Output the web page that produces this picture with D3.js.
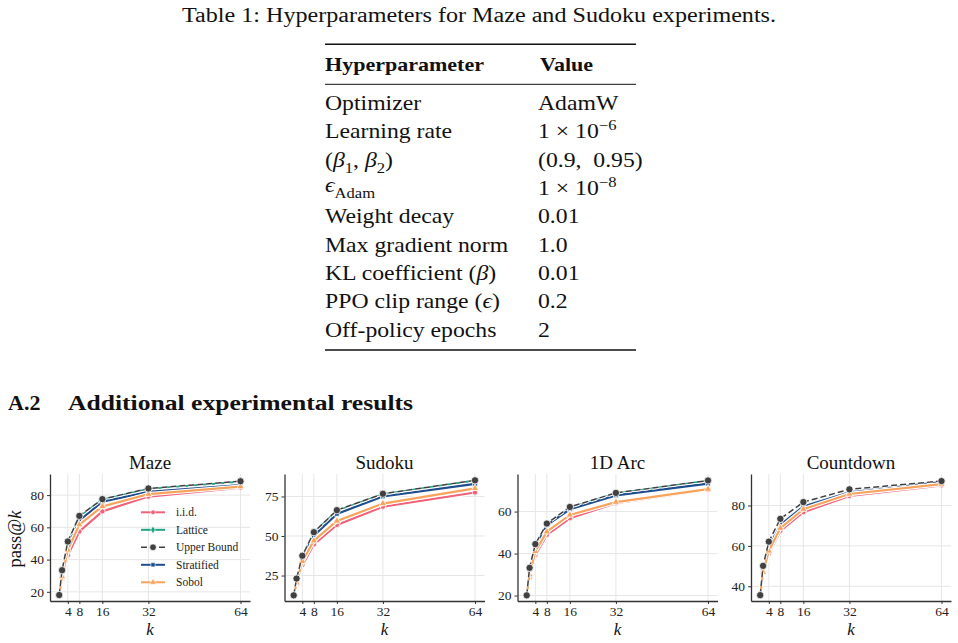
<!DOCTYPE html>
<html>
<head>
<meta charset="utf-8">
<script src="https://cdn.jsdelivr.net/npm/d3@7"></script>
<style>
  body { margin: 0; background: #fff; }
  svg { display: block; }
  text { font-family: "Liberation Serif", "Times New Roman", serif; fill: #111; }
</style>
</head>
<body>
<svg id="page" width="958" height="643"></svg>
<script>
// chart data
const kValues = [1, 2, 4, 8, 16, 32, 64]
const kTicks = [4, 8, 16, 32, 64]
const methods = ['i.i.d.', 'Lattice', 'Upper Bound', 'Stratified', 'Sobol']
const tasks = ['Maze', 'Sudoku', '1D Arc', 'Countdown']

// rows in method order: i.i.d., Lattice, Upper Bound, Stratified, Sobol
const maze = [
  [18, 28, 42.6, 57.4, 69.9, 79.1, 84.7],
  [18, 33, 50.6, 66.4, 77.1, 83.8, 88.3],
  [18, 33.4, 51.2, 67.1, 77.5, 84.1, 88.6],
  [18, 31, 48.5, 64.2, 75.9, 82, 86.2],
  [18, 29.5, 46, 61.7, 73, 80.6, 85.3]
]
const sudoku = [
  [12.5, 19.5, 31.6, 44.7, 57, 68.5, 77.5],
  [12.5, 23, 37.2, 52, 65.8, 76.4, 85],
  [12.5, 23.1, 37.5, 52.4, 66.3, 76.7, 85.2],
  [12.5, 22, 36, 50.2, 64, 75, 82.9],
  [12.5, 20.5, 34, 47, 59.5, 70.5, 80.1]
]
const arc1d = [
  [20, 28.5, 39.3, 48.9, 56.8, 64, 70.4],
  [20, 32.5, 44, 54, 61.8, 68.6, 74.6],
  [20.1, 33.2, 44.5, 54.3, 62.2, 68.9, 74.8],
  [20, 31.5, 43, 53.6, 61.1, 67.7, 73.3],
  [20, 30, 41, 50.4, 58.4, 64.5, 70.7]
]
const countdown = [
  [35.6, 46.5, 56.3, 67.4, 76.7, 84.7, 90],
  [35.6, 48.5, 60, 71, 80, 86.8, 91.8],
  [35.6, 50.1, 62.1, 73.4, 81.7, 88, 92.1],
  [35.6, 48, 59.5, 70.4, 79.5, 86.5, 91.6],
  [35.6, 47, 57.5, 68.8, 78.2, 85.7, 90.6]
]
const taskValues = [maze, sudoku, arc1d, countdown]

const mazeTicks = [20, 40, 60, 80]
const sudokuTicks = [25, 50, 75]
const arc1dTicks = [20, 40, 60]
const countdownTicks = [40, 60, 80]
const taskTicks = [mazeTicks, sudokuTicks, arc1dTicks, countdownTicks]
const taskDomains = [[14.3, 93.1], [8.9, 89.2], [17.4, 77.9], [32.7, 95.6]]

// table content
const paramLabels = [
  [{ t: 'Optimizer' }],
  [{ t: 'Learning rate' }],
  [{ t: '(' }, { t: 'β', it: 1 }, { t: '1', sub: 1 }, { t: ', ' }, { t: 'β', it: 1 }, { t: '2', sub: 1 }, { t: ')' }],
  [{ t: 'ϵ', it: 1 }, { t: 'Adam', sub: 1 }],
  [{ t: 'Weight decay' }],
  [{ t: 'Max gradient norm' }],
  [{ t: 'KL coefficient (' }, { t: 'β', it: 1 }, { t: ')' }],
  [{ t: 'PPO clip range (' }, { t: 'ϵ', it: 1 }, { t: ')' }],
  [{ t: 'Off-policy epochs' }]
]
const paramValues = [
  [{ t: 'AdamW' }],
  [{ t: '1 × 10' }, { t: '−6', sup: 1 }],
  [{ t: '(0.9,\u00a0\u00a00.95)' }],
  [{ t: '1 × 10' }, { t: '−8', sup: 1 }],
  [{ t: '0.01' }],
  [{ t: '1.0' }],
  [{ t: '0.01' }],
  [{ t: '0.2' }],
  [{ t: '2' }]
]

const colors = ['#f0627a', '#1ea386', '#404040', '#1f4e8f', '#f7a35c']
const symbols = [d3.symbolCircle, d3.symbolDiamond, d3.symbolCircle, d3.symbolSquare, d3.symbolTriangle]
const symbolSizes = [22, 22, 42, 22, 24]
// Upper Bound goes on top so its k = 1 dot stays visible
const drawOrder = [0, 1, 3, 4, 2]

const svg = d3.select('#page')

/**
 * Writes segments of text (italic, subscript, superscript) into a text element.
 */
function writeRich (sel, segs, size) {
  let shift = 0
  segs.forEach(s => {
    const target = s.sub ? size * 0.28 : s.sup ? -size * 0.4 : 0
    sel.append('tspan')
      .attr('dy', target - shift)
      .style('font-size', (s.sub || s.sup) ? size * 0.7 + 'px' : null)
      .style('font-style', s.it ? 'italic' : null)
      .text(s.t)
    shift = target
  })
}

// caption
svg.append('text')
  .attr('x', 182).attr('y', 22)
  .attr('textLength', 594).attr('lengthAdjust', 'spacingAndGlyphs')
  .style('font-size', '20px')
  .text('Table 1: Hyperparameters for Maze and Sudoku experiments.')

// table
const table = svg.append('g')
const tableX = [325, 538]
const stretch = 1.13
table.append('line').attr('x1', 325).attr('x2', 636).attr('y1', 44.3).attr('y2', 44.3)
  .style('stroke', '#111').style('stroke-width', 1.6)
table.append('line').attr('x1', 325).attr('x2', 636).attr('y1', 84.3).attr('y2', 84.3)
  .style('stroke', '#111').style('stroke-width', 1)
table.append('line').attr('x1', 325).attr('x2', 636).attr('y1', 350).attr('y2', 350)
  .style('stroke', '#111').style('stroke-width', 1.6)

;['Hyperparameter', 'Value'].forEach((h, i) => {
  table.append('text')
    .attr('transform', `translate(${tableX[i] + (i ? 2 : 0)},71) scale(${stretch},1)`)
    .style('font-size', '19.5px').style('font-weight', 'bold')
    .text(h)
})

paramLabels.forEach((segs, i) => {
  const y = 110 + i * 28.33
  writeRich(table.append('text')
    .attr('transform', `translate(${tableX[0]},${i === 3 ? y - 3 : y}) scale(${stretch},1)`)
    .style('font-size', '21px'), segs, 21)
  writeRich(table.append('text')
    .attr('transform', `translate(${tableX[1]},${y}) scale(${stretch},1)`)
    .style('font-size', '21px'), paramValues[i], 21)
})

// section heading
svg.append('text').attr('x', 8).attr('y', 410)
  .style('font-size', '22px').style('font-weight', 'bold')
  .text('A.2')
svg.append('text').attr('x', 68).attr('y', 410)
  .attr('textLength', 345).attr('lengthAdjust', 'spacingAndGlyphs')
  .style('font-size', '22px').style('font-weight', 'bold')
  .text('Additional experimental results')

// panels
const panelLeft = [50, 284.5, 517.5, 751]
const plotWidth = 200
const plotTop = 474
const plotHeight = 127

tasks.forEach((task, p) => {
  const g = svg.append('g').attr('transform', `translate(${panelLeft[p]},${plotTop})`)
  const x = d3.scaleLinear().domain([-2.2, 67.3]).range([0, plotWidth])
  const y = d3.scaleLinear().domain(taskDomains[p]).range([plotHeight, 0])

  // grid
  g.selectAll('.gx').data(kTicks).enter().append('line')
    .attr('x1', d => x(d)).attr('x2', d => x(d)).attr('y1', 0).attr('y2', plotHeight)
    .style('stroke', '#e6e6e6').style('stroke-width', 1)
  g.selectAll('.gy').data(taskTicks[p]).enter().append('line')
    .attr('x1', 0).attr('x2', plotWidth).attr('y1', d => y(d)).attr('y2', d => y(d))
    .style('stroke', '#e6e6e6').style('stroke-width', 1)

  // lines with white halo
  const line = d3.line().x((d, i) => x(kValues[i])).y(d => y(d))
  drawOrder.forEach(m => {
    const vals = taskValues[p][m]
    const dash = m === 2 ? '6,3' : null
    g.append('path').attr('d', line(vals))
      .style('fill', 'none').style('stroke', '#fff')
      .style('stroke-width', m === 2 ? 3.5 : 4.4)
      .style('stroke-dasharray', dash)
    g.append('path').attr('d', line(vals))
      .style('fill', 'none').style('stroke', colors[m])
      .style('stroke-width', m === 2 ? 1.5 : 2.2)
      .style('stroke-dasharray', dash)
    g.selectAll('.mk' + m).data(vals).enter().append('path')
      .attr('transform', (d, i) => `translate(${x(kValues[i])},${y(d)})`)
      .attr('d', d3.symbol().type(symbols[m]).size(symbolSizes[m]))
      .style('fill', colors[m]).style('stroke', '#fff').style('stroke-width', 0.8)
  })

  // axes
  const ax = g.append('g').attr('transform', `translate(0,${plotHeight})`)
    .call(d3.axisBottom(x).tickValues(kTicks).tickSize(3).tickSizeOuter(0).tickPadding(2))
  const ay = g.append('g')
    .call(d3.axisLeft(y).tickValues(taskTicks[p]).tickSize(3).tickSizeOuter(0).tickPadding(3))
  ;[ax, ay].forEach(a => {
    a.select('.domain').style('stroke', '#333').style('stroke-width', 1.3)
    a.selectAll('.tick line').style('stroke', '#333')
    a.selectAll('.tick text')
      .style('font-family', '"Liberation Serif", serif')
      .style('font-size', '13.5px').style('fill', '#222')
  })

  // title and x label
  g.append('text').attr('x', plotWidth / 2).attr('y', -5)
    .attr('text-anchor', 'middle').style('font-size', '19px')
    .text(task)
  g.append('text').attr('x', plotWidth / 2).attr('y', 161)
    .attr('text-anchor', 'middle').style('font-size', '17px').style('font-style', 'italic')
    .text('k')
})

// y label
svg.append('text')
  .attr('transform', 'translate(21,539) rotate(-90)')
  .attr('text-anchor', 'middle').style('font-size', '18.5px')
  .call(t => {
    t.append('tspan').text('pass@')
    t.append('tspan').style('font-style', 'italic').text('k')
  })

// legend inside Maze panel
const legend = svg.append('g').attr('transform', 'translate(141,512.3)')
methods.forEach((name, m) => {
  const row = legend.append('g').attr('transform', `translate(0,${m * 17.5})`)
  row.append('line').attr('x1', 0).attr('x2', 24)
    .style('stroke', colors[m]).style('stroke-width', m === 2 ? 1.5 : 2)
    .style('stroke-dasharray', m === 2 ? '6,3' : null)
  row.append('path').attr('transform', 'translate(12,0)')
    .attr('d', d3.symbol().type(symbols[m]).size(symbolSizes[m] * 0.8))
    .style('fill', colors[m]).style('stroke', '#fff').style('stroke-width', 0.6)
  row.append('text').attr('x', 35).attr('y', 4)
    .style('font-size', '11.5px').style('fill', '#222')
    .text(name)
})
</script>
</body>
</html>
